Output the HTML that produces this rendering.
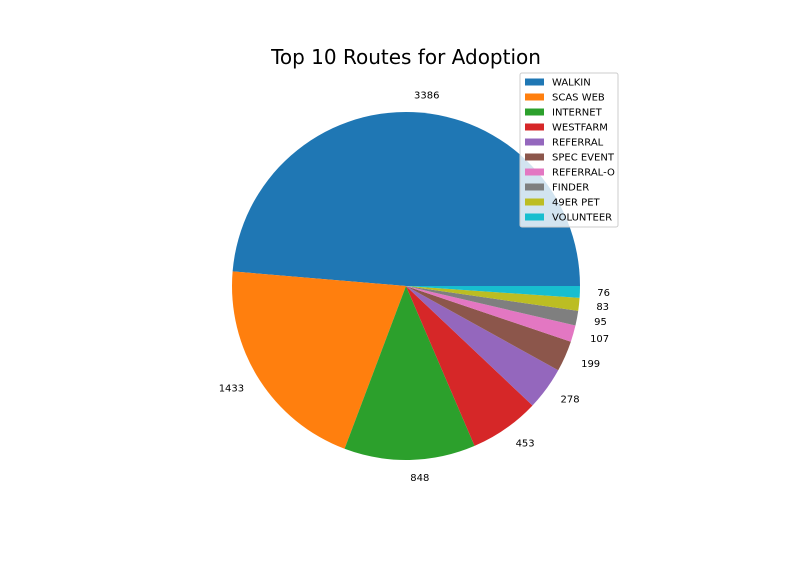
<!DOCTYPE html>
<html><head><meta charset="utf-8"><style>
body{margin:0;background:#fff;font-family:"Liberation Sans","DejaVu Sans",sans-serif}
</style></head><body>
<svg id="chart" width="792" height="576" viewBox="0 0 792 576" xmlns="http://www.w3.org/2000/svg">
<rect width="792" height="576" fill="#fff"/>
<text x="406" y="64" font-size="20" text-anchor="middle" font-family="DejaVu Sans, sans-serif">Top 10 Routes for Adoption</text>
<g id="slices"></g><g id="labels"></g><g id="legend"></g>
</svg>
<script>
const categories=["WALKIN","SCAS WEB","INTERNET","WESTFARM","REFERRAL","SPEC EVENT","REFERRAL-O","FINDER","49ER PET","VOLUNTEER"];
const values=[3386,1433,848,453,278,199,107,95,83,76];
const colors=["#1f77b4","#ff7f0e","#2ca02c","#d62728","#9467bd","#8c564b","#e377c2","#7f7f7f","#bcbd22","#17becf"];
const NS="http://www.w3.org/2000/svg";
const cx=406,cy=286,R=174;
const total=values.reduce((a,b)=>a+b,0);
const sg=document.getElementById('slices'),lg=document.getElementById('labels'),leg=document.getElementById('legend');
function pt(a,r){return [cx+r*Math.cos(a),cy-r*Math.sin(a)];}
let start=0;
values.forEach((v,i)=>{
  const sweep=v/total*2*Math.PI,end=start+sweep;
  const [x1,y1]=pt(start,R),[x2,y2]=pt(end,R);
  const p=document.createElementNS(NS,'path');
  p.setAttribute('d',`M${cx},${cy}L${x1},${y1}A${R},${R} 0 ${sweep>Math.PI?1:0} 0 ${x2},${y2}Z`);
  p.setAttribute('fill',colors[i]);
  
  
  sg.appendChild(p);
  const mid=(start+end)/2;const [lx,ly]=pt(mid,R*1.1);
  const t=document.createElementNS(NS,'text');
  t.setAttribute('x',lx);t.setAttribute('y',ly+3.5);t.setAttribute('font-size','10');
  t.setAttribute('font-family','DejaVu Sans, sans-serif');
  t.setAttribute('text-anchor',Math.cos(mid)>=0?'start':'end');
  t.textContent=v;
  
  
  lg.appendChild(t);
  start=end;
});
const box=document.createElementNS(NS,'rect');
box.setAttribute('x',520);box.setAttribute('y',73);box.setAttribute('width',98);box.setAttribute('height',154);
box.setAttribute('rx',2);box.setAttribute('fill','#fff');box.setAttribute('fill-opacity','0.8');box.setAttribute('stroke','#ccc');


leg.appendChild(box);
categories.forEach((c,i)=>{
  const y=82+i*15;
  const r=document.createElementNS(NS,'rect');
  r.setAttribute('x',525);r.setAttribute('y',y-3.5);r.setAttribute('width',19);r.setAttribute('height',7);r.setAttribute('fill',colors[i]);
  
  
  leg.appendChild(r);
  const t=document.createElementNS(NS,'text');
  t.setAttribute('x',552);t.setAttribute('y',y+3.5);t.setAttribute('font-size','10');t.setAttribute('font-family','DejaVu Sans, sans-serif');
  t.textContent=c;
  
  
  leg.appendChild(t);
});
</script>
</body></html>
